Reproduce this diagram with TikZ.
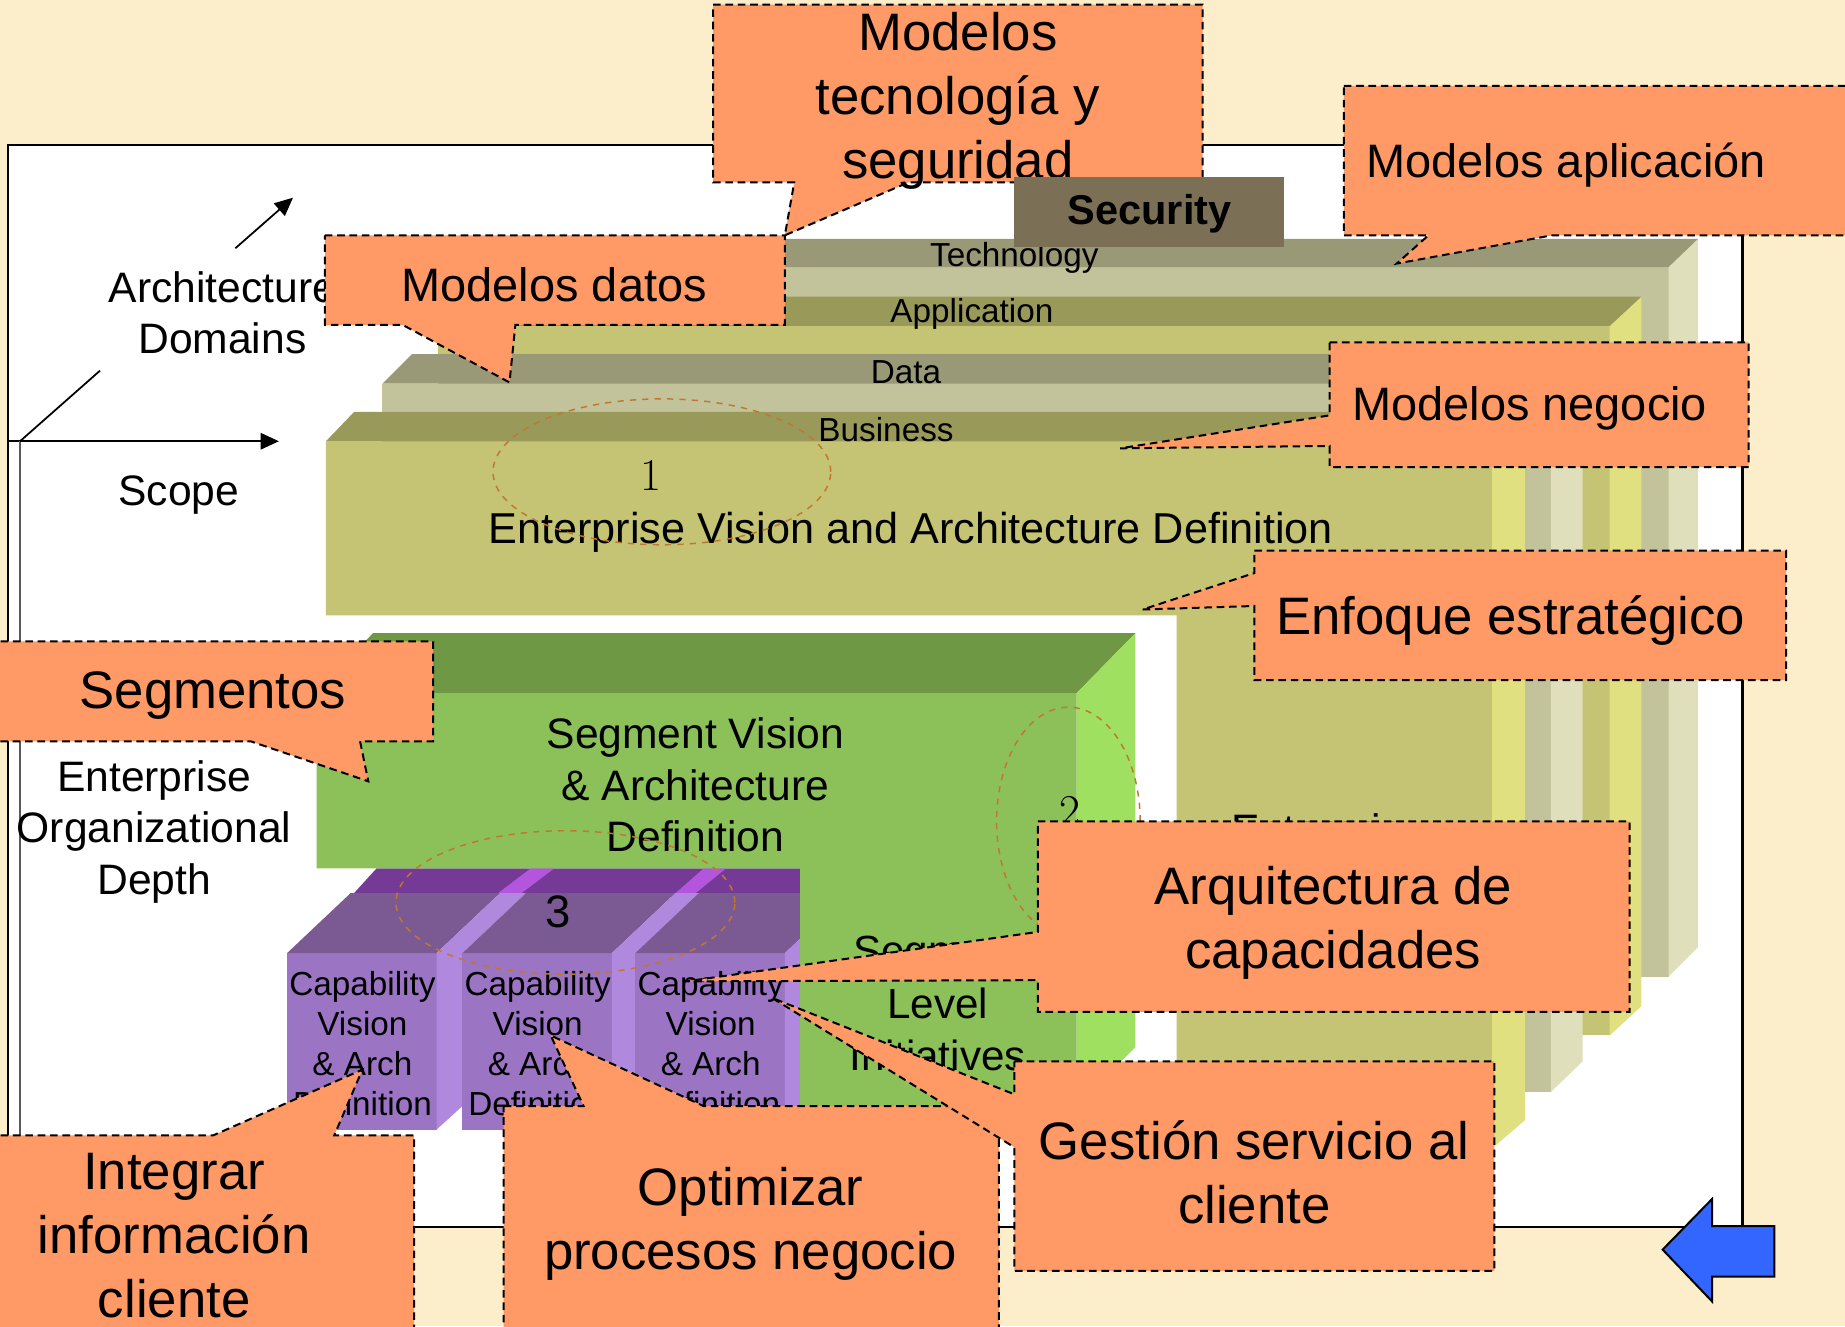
\documentclass[tikz,border=0pt]{standalone}
\usepackage{fontspec}
\newfontfamily\arial{Liberation Sans}
\usetikzlibrary{arrows.meta}
\definecolor{bgc}{RGB}{252,238,202}
\definecolor{orc}{RGB}{255,153,102}
\definecolor{secc}{RGB}{123,112,85}
\definecolor{elc}{RGB}{192,120,48}
\definecolor{grayTop}{RGB}{153,153,119}
\definecolor{grayFront}{RGB}{194,195,155}
\definecolor{graySide}{RGB}{224,223,188}
\definecolor{oliveTop}{RGB}{153,153,90}
\definecolor{oliveFront}{RGB}{196,196,116}
\definecolor{oliveSide}{RGB}{224,224,128}
\definecolor{grnTop}{RGB}{110,152,68}
\definecolor{grnFront}{RGB}{140,192,88}
\definecolor{grnSide}{RGB}{160,224,96}
\definecolor{purFront}{RGB}{155,116,196}
\definecolor{purTop}{RGB}{123,90,148}
\definecolor{purSide}{RGB}{176,136,221}
\definecolor{purBack}{RGB}{117,58,150}
\definecolor{purMag}{RGB}{180,85,221}
\definecolor{bluec}{RGB}{51,102,255}
\newcommand\fntBig{\arial\fontsize{25.5}{30.9}\selectfont}
\newcommand\fntMid{\arial\fontsize{22.7}{27}\selectfont}
\newcommand\fntLab{\arial\fontsize{20.6}{24.9}\selectfont}
\newcommand\fntSeg{\arial\fontsize{20.4}{25.5}\selectfont}
\newcommand\fntSmall{\arial\fontsize{16.1}{19.3}\selectfont}
\tikzset{
  callout/.style={fill=orc, draw=black, line width=0.34mm, dash pattern=on 1.3mm off 0.8mm},
  ctext/.style={font=\fntBig, align=center, inner sep=0pt},
  mtext/.style={font=\fntMid, align=center, inner sep=0pt},
  ltext/.style={font=\fntLab, align=center, inner sep=0pt},
  stext/.style={font=\fntSmall, align=center, inner sep=0pt},
  numtext/.style={font=\rmfamily\fontsize{22}{26}\selectfont, inner sep=0pt},
  axisline/.style={line width=0.3mm},
  tip/.style={-{Triangle[length=3.1mm,width=2.8mm]}},
  ell/.style={draw=elc, dashed, line width=0.25mm},
}
\begin{document}
\begin{tikzpicture}[x=0.2mm,y=-0.2mm]
\useasboundingbox (0,0) rectangle (1568,1127);
\clip (0,0) rectangle (1568,1127);
\fill[bgc] (0,0) rectangle (1568,1127);
\draw[fill=white,line width=0.4mm] (7,123) rectangle (1481,1043);

% axes
\coordinate (ax0) at (7,375);
\coordinate (axo) at (17,375);
\coordinate (axx) at (237,375);
\coordinate (axdn) at (17,1043);
\coordinate (axd1) at (85,315);
\coordinate (axd2) at (200,211);
\coordinate (axd3) at (249,168);
\draw[axisline,tip] (ax0) -- (axx);
\draw[axisline,black!65] (axo) -- (axdn);
\draw[axisline] (axo) -- (axd1);
\draw[axisline,tip] (axd2) -- (axd3);
\node[ltext] (archd) at (189,266) {Architecture\\Domains};
\node[ltext] (scope) at (152,421) {Scope};
\node[ltext] (eod) at (131,707) {Enterprise\\Organizational\\Depth};

% Technology slab
\fill[grayFront] (430,227) rectangle (1418,830);
\fill[graySide] (1418,227) -- (1443,203) -- (1443,805) -- (1418,830) -- cycle;
\fill[grayTop] (430,227) -- (1418,227) -- (1443,203) -- (454,203) -- cycle;
% Application slab
\fill[oliveFront] (372,277) rectangle (1368,880);
\fill[oliveSide] (1368,277) -- (1395,252) -- (1395,855) -- (1368,880) -- cycle;
\fill[oliveTop] (372,277) -- (1368,277) -- (1395,252) -- (396,252) -- cycle;
% Data slab
\fill[grayFront] (325,326) rectangle (1318,928);
\fill[graySide] (1318,326) -- (1345,301) -- (1345,902) -- (1318,928) -- cycle;
\fill[grayTop] (325,326) -- (1318,326) -- (1345,301) -- (350,301) -- cycle;
% white cut-out
\fill[white] (300,523) rectangle (1000,990);
% Business slab
\fill[oliveFront] (277,375) -- (1268,375) -- (1268,976) -- (1000,976) -- (1000,523) -- (277,523) -- cycle;
\fill[oliveSide] (1268,375) -- (1296,350) -- (1296,952) -- (1268,976) -- cycle;
\fill[oliveTop] (277,375) -- (1268,375) -- (1296,350) -- (301,350) -- cycle;

\node[stext] (ltech) at (862,219) {Technology};
\node[stext] (lapp) at (826,267) {Application};
\node[stext] (ldata) at (770,316) {Data};
\node[stext] (lbus) at (753,365) {Business};

\node[numtext] (n1) at (553,404) {1};
\node[font=\arial\fontsize{20.9}{25}\selectfont, inner sep=0pt] (evad) at (774,452) {Enterprise Vision and Architecture Definition};
\draw[ell] (562.5,401) ellipse [x radius=28.7mm, y radius=12.4mm];
\node[ltext] (entl) at (1129,708) {Enterprise};

% purple capability blocks
\fill[purBack] (300,760) -- (320,738) -- (680,738) -- (680,760) -- cycle;
\fill[purMag] (422,760) -- (442,760) -- (471,738) -- (451,738) -- cycle;
\fill[purMag] (573,760) -- (590,760) -- (617,738) -- (598,738) -- cycle;
\foreach \a/\nm in {244/c1,393/c2,540/c3}{
  \fill[purFront] (\a,810) rectangle ({\a+127},960);
  \fill[purTop] (\a,810) -- ({\a+127},810) -- ({\a+181},759) -- ({\a+54},759) -- cycle;
  \fill[purSide] ({\a+127},960) -- ({\a+127},810) -- ({\a+181},759) -- ({\a+203},759) -- ({\a+149},810) -- ({\a+149},940) -- cycle;
  \node[stext] (\nm) at ({\a+64},887) {Capability\\Vision\\\& Arch\\Definition};
}

% green segment block
\fill[grnTop] (269,589) -- (915,589) -- (965,538) -- (317,538) -- cycle;
\fill[grnSide] (915,589) -- (965,538) -- (965,890) -- (915,940) -- cycle;
\fill[grnFront] (269,589) -- (915,589) -- (915,940) -- (680,940) -- (680,738) -- (269,738) -- cycle;
\node[ltext] (svad) at (591,667) {Segment Vision\\\& Architecture\\Definition};
\node[font=\fntSeg, align=center, inner sep=0pt] (sli) at (797,853) {Segment\\Level\\Initiatives};
\node[numtext] (n2) at (909,690) {2};
\draw[ell] (908,698) ellipse [x radius=12.2mm, y radius=19.4mm];
\node[font=\arial\fontsize{22}{26}\selectfont, inner sep=0pt] (n3) at (474,775) {3};
\draw[ell] (480.5,767) ellipse [x radius=28.8mm, y radius=12.2mm];

% callouts
\draw[callout] (606,4) -- (1022,4) -- (1022,155) -- (772,155) -- (667,200) -- (675,155) -- (606,155) -- cycle;
\node[ctext] (cta) at (814,86) {Modelos\\tecnología y\\seguridad};
\fill[secc] (862,150) rectangle (1091,210);
\node[inner sep=0pt, font=\arial\bfseries\fontsize{20.1}{24}\selectfont] (sec) at (977,182) {Security};
\draw[callout] (276,200) -- (667,200) -- (667,276) -- (438,276) -- (433,325) -- (342,276) -- (276,276) -- cycle;
\node[mtext] (ctb) at (471,242) {Modelos datos};
\draw[callout] (1142,73) -- (1590,73) -- (1590,200) -- (1319,200) -- (1187,224) -- (1214,200) -- (1142,200) -- cycle;
\node[mtext] (ctc) at (1331,140) {Modelos aplicación};
\draw[callout] (1130,291) -- (1486,291) -- (1486,397) -- (1130,397) -- (1130,379) -- (952,381) -- (1130,353) -- cycle;
\node[mtext] (ctd) at (1300,347) {Modelos negocio};
\draw[callout] (1066,468) -- (1518,468) -- (1518,578) -- (1066,578) -- (1066,515) -- (971,518) -- (1066,487) -- cycle;
\node[ctext] (cte) at (1284,527) {Enfoque estratégico};
\draw[callout] (-10,545) -- (368,545) -- (368,630) -- (306,630) -- (313,664) -- (213,630) -- (-10,630) -- cycle;
\node[ctext] (ctf) at (181,591) {Segmentos};
\draw[callout] (882,698) -- (1385,698) -- (1385,860) -- (882,860) -- (882,833) -- (583,834) -- (882,792) -- cycle;
\node[ctext] (ctg) at (1133,784) {Arquitectura de\\capacidades};
\draw[callout] (428,940) -- (496,940) -- (468,880) -- (598,940) -- (849,940) -- (849,1140) -- (428,1140) -- cycle;
\node[ctext] (ctj) at (638,1040) {Optimizar\\procesos negocio};
\draw[callout] (-10,965) -- (181,965) -- (308,909) -- (284,965) -- (352,965) -- (352,1140) -- (-10,1140) -- cycle;
\node[ctext] (cti) at (148,1050) {Integrar\\información\\cliente};
\draw[callout] (862,902) -- (1270,902) -- (1270,1080) -- (862,1080) -- (862,975) -- (656,848) -- (862,930) -- cycle;
\node[ctext] (cth) at (1066,996) {Gestión servicio al\\cliente};

% blue arrow
\draw[fill=bluec, line width=0.34mm, line join=miter] (1413,1062) -- (1455,1019) -- (1455,1042) -- (1508,1042) -- (1508,1085) -- (1455,1085) -- (1455,1106) -- cycle;
\end{tikzpicture}
\end{document}
